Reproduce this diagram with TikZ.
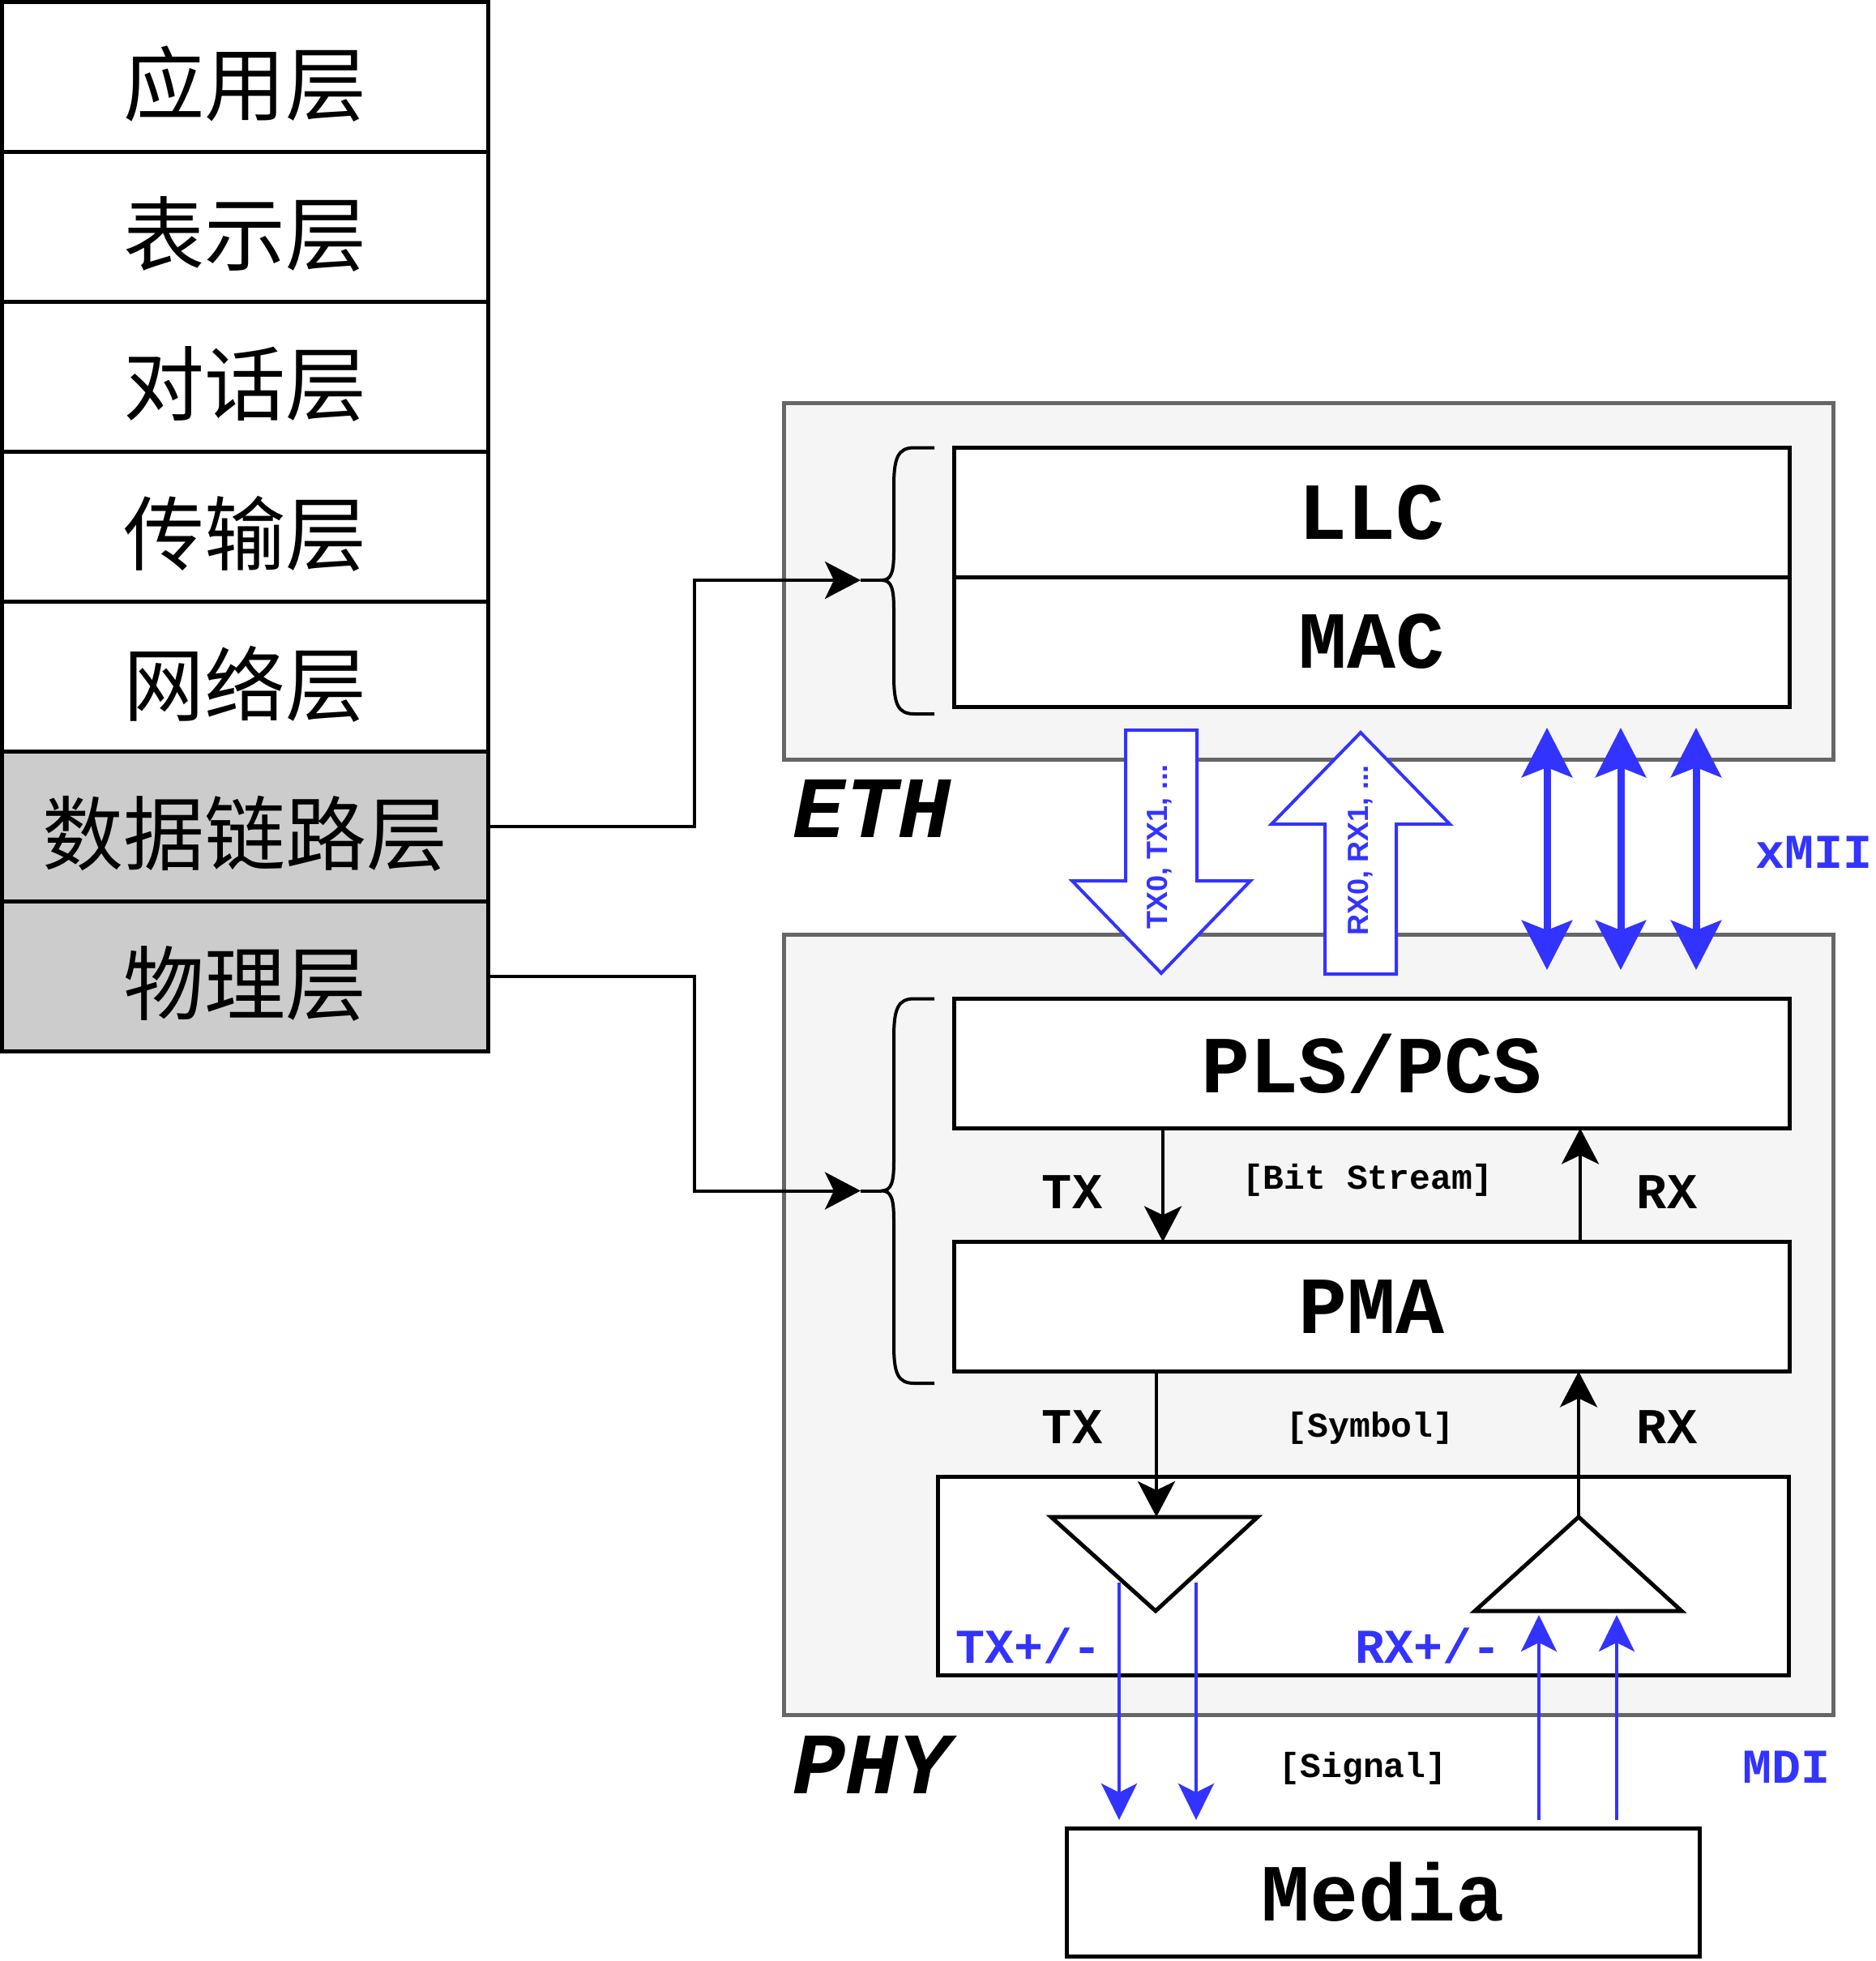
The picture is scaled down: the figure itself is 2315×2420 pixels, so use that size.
\documentclass[tikz,border=0pt]{standalone}
\usepackage{fontspec}
\setmonofont{Liberation Mono}
\newfontfamily\cjk{Noto Sans CJK SC}
\newfontfamily\hv{Liberation Sans}
\usetikzlibrary{arrows.meta}
\definecolor{myblue}{HTML}{3333FF}
\definecolor{boxgray}{HTML}{666666}
\definecolor{boxfill}{HTML}{F5F5F5}
\definecolor{layergray}{HTML}{CCCCCC}
\begin{document}
\begin{tikzpicture}[x=1pt,y=-1pt,
  layer/.style={draw=black, line width=5pt, minimum width=600pt, minimum height=185pt,
    inner sep=0pt, outer sep=0pt, fill=white},
  layertxt/.style={inner sep=0pt, font=\cjk\fontsize{100}{110}\selectfont},
  blk/.style={draw=black, line width=5pt, fill=white, inner sep=0pt, outer sep=0pt,
    font=\ttfamily\bfseries\fontsize{100}{110}\selectfont},
  grp/.style={draw=boxgray, line width=5pt, fill=boxfill, inner sep=0pt, outer sep=0pt},
  conn/.style={line width=4pt, -{Stealth[length=44pt, width=46pt, inset=11pt]}},
  bracestyle/.style={line width=4pt, line join=round},
  blueconn/.style={line width=4.5pt, draw=myblue, -{Stealth[length=45pt, width=44pt, inset=11pt]}},
  xmii/.style={line width=9pt, draw=myblue, {Stealth[length=61pt, width=62pt, inset=12pt]}-{Stealth[length=61pt, width=62pt, inset=12pt]}},
  bigarrow/.style={line width=4pt, draw=myblue, fill=white, line join=miter},
  lbl/.style={inner sep=0pt, font=\ttfamily\bfseries\fontsize{62}{70}\selectfont},
  small/.style={inner sep=0pt, font=\ttfamily\bfseries\fontsize{43}{50}\selectfont},
  bluelbl/.style={inner sep=0pt, text=myblue, font=\ttfamily\bfseries\fontsize{60}{70}\selectfont},
  grplbl/.style={inner sep=0pt, font=\ttfamily\bfseries\itshape\fontsize{108}{118}\selectfont},
  arrtxt/.style={inner sep=0pt, rotate=90, text=myblue, font=\hv\bfseries\fontsize{36}{40}\selectfont},
  tri/.style={line width=5pt, draw=black, fill=white, line join=miter}
]
\useasboundingbox (0,0) rectangle (2315,2420);

% OSI stack
\node[layer] (app) at (302.5,95) {};
\node[layer] (pre) at (302.5,280) {};
\node[layer] (ses) at (302.5,465) {};
\node[layer] (tra) at (302.5,650) {};
\node[layer] (net) at (302.5,835) {};
\node[layer, fill=layergray] (dl) at (302.5,1020) {};
\node[layer, fill=layergray] (phy) at (302.5,1205) {};
\node[layertxt] (appt) at (302.5,104) {应用层};
\node[layertxt] (pret) at (302.5,289) {表示层};
\node[layertxt] (sest) at (302.5,474) {对话层};
\node[layertxt] (trat) at (302.5,659) {传输层};
\node[layertxt] (nett) at (302.5,844) {网络层};
\node[layertxt] (dlt) at (302.5,1029) {数据链路层};
\node[layertxt] (phyt) at (302.5,1214) {物理层};

% group boxes
\node[grp, minimum width=1294.5pt, minimum height=439.5pt] (eth) at (1614.75,717.25) {};
\node[grp, minimum width=1294.5pt, minimum height=963pt] (phyg) at (1614.75,1634.5) {};
\node[grplbl] (ethlbl) at (1076,998) {ETH};
\node[grplbl] (phylbl) at (1076,2178) {PHY};

% ETH inner
\node[blk, minimum width=1030.5pt, minimum height=159.5pt] (llc) at (1692.75,632.25) {LLC};
\node[blk, minimum width=1030.5pt, minimum height=160pt] (mac) at (1692.75,792) {MAC};

% PHY inner
\node[blk, minimum width=1030.5pt, minimum height=160pt] (pls) at (1692.75,1312.5) {PLS/PCS};
\node[blk, minimum width=1030.5pt, minimum height=160pt] (pma) at (1692.75,1612.5) {PMA};
\node[blk, minimum width=1050pt, minimum height=245pt] (xcvr) at (1682,1944.5) {};
\node[blk, minimum width=781pt, minimum height=158pt] (media) at (1706.5,2335) {Media};

% braces
\coordinate (ethcusp) at (1088,716);
\coordinate (ethin) at (1062,716);
\coordinate (phycusp) at (1088,1469.5);
\coordinate (phyin) at (1062,1469.5);
\draw[bracestyle] (1153,552.5) -- (1128,552.5) .. controls (1108,552.5) and (1103,565) .. (1103,600)
  -- (1103,680) .. controls (1103,706) and (1100,716) .. (ethcusp)
  .. controls (1100,716) and (1103,726) .. (1103,752) -- (1103,834)
  .. controls (1103,869) and (1108,881) .. (1128,881) -- (1153,881);
\draw[bracestyle] (1153,1232.5) -- (1128,1232.5) .. controls (1108,1232.5) and (1103,1245) .. (1103,1280)
  -- (1103,1433) .. controls (1103,1459) and (1100,1469.5) .. (phycusp)
  .. controls (1100,1469.5) and (1103,1480) .. (1103,1506) -- (1103,1660)
  .. controls (1103,1695) and (1108,1707) .. (1128,1707) -- (1153,1707);
\draw[bracestyle] (ethin) -- (ethcusp);
\draw[bracestyle] (phyin) -- (phycusp);

% stack connectors
\coordinate (j1) at (856.5,716);
\coordinate (j2) at (856.5,1469.5);
\draw[conn] (dl.east) -| (j1) -- (ethin);
\draw[conn] (phy.east) -| (j2) -- (phyin);

% big hollow arrows
\draw[bigarrow] (1389,901) -- (1477,901) -- (1477,1087) -- (1543,1087) -- (1433,1201)
  -- (1323,1087) -- (1389,1087) -- cycle;
\draw[bigarrow] (1635,1202) -- (1723,1202) -- (1723,1017) -- (1789,1017) -- (1679,904)
  -- (1569,1017) -- (1635,1017) -- cycle;
\node[arrtxt] (txbus) at (1431,1045) {TX0, TX1, ...};
\node[arrtxt] (rxbus) at (1679,1049) {RX0, RX1, ...};

% xMII arrows
\coordinate (m1a) at (1909,898); \coordinate (m1b) at (1909,1197);
\coordinate (m2a) at (2000,898); \coordinate (m2b) at (2000,1197);
\coordinate (m3a) at (2093,898); \coordinate (m3b) at (2093,1197);
\draw[xmii] (m1a) -- (m1b);
\draw[xmii] (m2a) -- (m2b);
\draw[xmii] (m3a) -- (m3b);
\node[bluelbl] (xmiilbl) at (2238,1052) {xMII};

% PLS <-> PMA
\coordinate (plstx) at (1435,1392.5); \coordinate (pmatxin) at (1435,1532.5);
\coordinate (pmarxout) at (1950,1532.5); \coordinate (plsrx) at (1950,1392.5);
\draw[conn] (plstx) -- (pmatxin);
\draw[conn] (pmarxout) -- (plsrx);
\node[lbl] (tx1) at (1323,1471) {TX};
\node[small] (bits) at (1688,1456) {[Bit Stream]};
\node[lbl] (rx1) at (2057,1471) {RX};

% triangles
\draw[tri] (1297,1872) -- (1552,1872) -- (1426,1988) -- cycle;
\draw[tri] (1948,1872) -- (2075,1988) -- (1820,1988) -- cycle;
\coordinate (pmatx) at (1427,1692.5); \coordinate (drvtop) at (1427,1872);
\coordinate (rcvtop) at (1948,1872); \coordinate (pmarx) at (1948,1692.5);
\draw[conn] (pmatx) -- (drvtop);
\draw[conn] (rcvtop) -- (pmarx);
\node[lbl] (tx2) at (1323,1761) {TX};
\node[small] (sym) at (1691,1762) {[Symbol]};
\node[lbl] (rx2) at (2057,1761) {RX};

% MDI blue lines
\coordinate (t1a) at (1381,1953); \coordinate (t1b) at (1381,2246);
\coordinate (t2a) at (1476,1953); \coordinate (t2b) at (1476,2246);
\coordinate (r1a) at (1899,2246); \coordinate (r1b) at (1899,1993);
\coordinate (r2a) at (1995,2246); \coordinate (r2b) at (1995,1993);
\draw[blueconn] (t1a) -- (t1b);
\draw[blueconn] (t2a) -- (t2b);
\draw[blueconn] (r1a) -- (r1b);
\draw[blueconn] (r2a) -- (r2b);
\node[bluelbl] (txpm) at (1269,2031) {TX+/-};
\node[bluelbl] (rxpm) at (1762,2031) {RX+/-};
\node[small] (sig) at (1682,2182) {[Signal]};
\node[bluelbl] (mdi) at (2204,2181) {MDI};
\end{tikzpicture}
\end{document}
